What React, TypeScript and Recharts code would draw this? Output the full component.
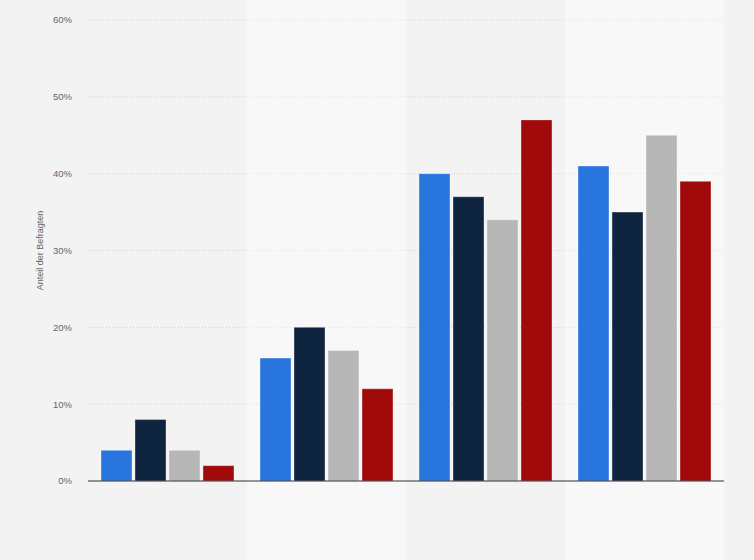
import React from 'react';
import { BarChart, Bar, XAxis, YAxis, CartesianGrid, ReferenceArea } from 'recharts';

// four answer groups (no visible labels in the source), four series
const categories = ['Gruppe 1', 'Gruppe 2', 'Gruppe 3', 'Gruppe 4'];
const seriesA = [4, 16, 40, 41];
const seriesB = [8, 20, 37, 35];
const seriesC = [4, 17, 34, 45];
const seriesD = [2, 12, 47, 39];
const yTicks = [0, 10, 20, 30, 40, 50, 60];

const COLORS = ['#2876dd', '#0f243e', '#b7b7b7', '#a10a0a'];
const KEYS = ['a', 'b', 'c', 'd'];

const data = categories.map((name, i) => ({
  name,
  a: seriesA[i],
  b: seriesB[i],
  c: seriesC[i],
  d: seriesD[i],
}));

export default function App() {
  return (
    <div style={{ position: 'fixed', top: 0, left: 0, width: 754, height: 560, background: '#f3f3f3', fontFamily: 'Arial, "Liberation Sans", sans-serif' }}>
      <BarChart
        width={754}
        height={560}
        data={data}
        margin={{ top: 20, right: 30, left: 0, bottom: 49 }}
        barCategoryGap={13}
        barGap={3}
      >
        <CartesianGrid vertical={false} stroke="#cfcfcf" strokeDasharray="1 2" />
        {/* lighter band behind every second group, translucent so the grid still shows */}
        {[categories[1], categories[3]].map((c) => (
          <ReferenceArea key={c} x1={c} x2={c} y1={-10.3} y2={62.6} ifOverflow="visible" fill="#ffffff" fillOpacity={0.4} stroke="none" />
        ))}
        <XAxis dataKey="name" tick={false} tickLine={false} axisLine={{ stroke: '#333333' }} height={30} />
        <YAxis
          width={88}
          domain={[0, 60]}
          ticks={yTicks}
          tickFormatter={(v) => `${v}%`}
          axisLine={false}
          tickLine={false}
          tickMargin={10}
          tick={{ fontSize: 9.5, fill: '#666666' }}
          label={{ value: 'Anteil der Befragten', angle: -90, position: 'insideLeft', offset: 40, style: { textAnchor: 'middle', fontSize: 9, fill: '#666666' } }}
        />
        {KEYS.map((k, i) => (
          <Bar key={k} dataKey={k} fill={COLORS[i]} stroke="#ffffff" strokeOpacity={0.35} isAnimationActive={false} />
        ))}
      </BarChart>
    </div>
  );
}
